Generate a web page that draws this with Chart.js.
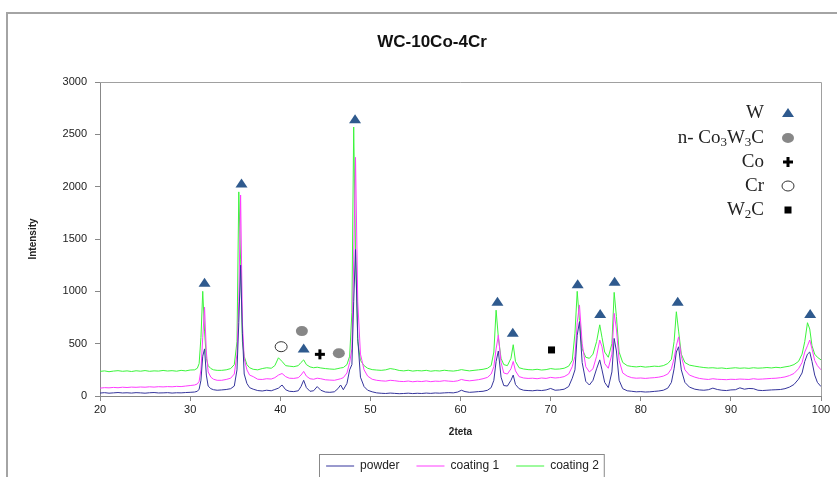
<!DOCTYPE html>
<html>
<head>
<meta charset="utf-8">
<script src="https://cdn.jsdelivr.net/npm/chart.js@4/dist/chart.umd.min.js"></script>
<style>
  html, body { margin: 0; padding: 0; background: #fff; overflow: hidden; }
  #wrap { position: absolute; left: 0; top: 0; width: 837px; height: 492px; }
</style>
</head>
<body>
<div id="wrap"><canvas id="xrd" width="837" height="492"></canvas></div>
<script>
// 2theta grid (shared by the three patterns)
var theta = [
  20,20.5,21,21.5,22,22.5,23,23.5,24,24.5,25,25.5,26,26.5,27,27.5,28,28.5,29,29.5,30,
  30.5,30.8,31.0,31.2,31.4,31.6,31.8,32.0,32.3,32.6,33,
  33.5,34,34.5,34.9,35.2,35.4,35.6,35.8,36.0,36.3,36.6,37,
  37.5,38,38.5,39,39.4,39.8,40.2,40.6,41,41.5,
  42,42.3,42.6,42.9,43.3,43.7,44.1,44.5,45,45.5,46,46.4,46.7,47,47.4,47.7,
  47.95,48.15,48.35,48.6,48.9,49.3,49.7,50.2,
  50.7,51.2,51.7,52.2,52.7,53.2,53.7,54.2,54.7,55.2,55.7,56.2,56.7,57.2,57.7,58.2,58.7,59.2,59.7,60.1,60.5,61,61.5,62,62.5,63,63.4,
  63.7,63.95,64.2,64.5,64.8,65.2,65.6,65.85,66.1,66.5,
  67,67.5,68,68.5,69,69.5,70,70.5,71,71.5,72,72.4,
  72.7,72.95,73.2,73.5,73.9,74.3,74.7,75.1,75.45,75.7,76.0,76.4,76.8,77.05,77.3,77.6,78.0,78.5,
  79,79.5,80,80.5,81,81.5,82,82.5,83,83.4,
  83.7,83.95,84.2,84.5,84.9,85.4,86,
  86.5,87,87.5,88,88.5,89,89.5,90,90.5,91,91.5,92,92.5,93,93.5,94,94.5,95,95.5,96,96.5,97,97.5,
  97.9,98.2,98.5,98.75,99.0,99.3,99.6,100
];

var powder = [
  28,32,27,30,33,29,31,28,32,30,27,31,33,29,30,32,28,31,30,33,35,
  38,45,65,150,380,450,200,95,70,60,55,
  58,62,70,95,250,700,1250,600,210,120,80,65,
  52,48,55,50,62,75,105,60,45,42,
  50,90,150,80,45,50,90,55,38,35,40,70,105,60,120,250,
  300,900,1400,550,180,90,55,40,
  30,26,24,28,25,22,24,27,23,26,24,28,25,29,27,30,32,30,38,55,42,35,38,42,45,55,80,
  150,330,430,180,100,95,150,200,110,70,
  55,52,50,55,52,58,72,55,58,65,90,170,
  250,580,710,320,140,105,150,260,345,250,130,80,230,550,430,150,70,50,
  45,40,42,38,40,44,48,55,75,130,
  260,420,470,250,130,85,65,
  58,55,60,75,62,55,52,58,60,78,65,72,70,55,52,55,58,60,62,70,85,110,160,
  220,330,400,420,330,200,130,90
];

var coating1 = [
  75,80,78,82,79,84,81,85,83,86,84,88,85,89,87,90,88,92,90,95,100,
  105,115,140,250,560,850,420,230,180,160,150,
  150,158,170,210,400,900,1920,700,360,250,200,185,
  160,158,165,162,175,200,215,185,170,168,
  175,200,235,190,165,160,170,165,155,152,150,158,165,175,220,320,
  450,1300,2280,900,400,250,190,160,
  150,145,142,150,146,140,138,143,136,141,138,144,137,142,140,146,142,139,145,158,150,145,150,156,165,178,210,
  280,450,580,320,220,210,260,330,240,185,
  172,168,170,165,172,168,178,172,176,185,210,280,
  380,700,870,500,280,230,260,380,535,470,310,265,400,790,640,340,220,190,
  175,170,172,168,172,175,180,190,210,260,
  360,480,565,380,250,200,180,
  168,162,158,165,160,158,156,160,158,162,160,158,165,160,162,165,168,170,175,182,195,215,260,
  320,420,480,535,450,340,290,250
];

var coating2 = [
  235,240,232,238,242,236,240,234,241,237,243,236,240,238,244,239,242,237,245,240,248,
  250,265,310,560,1000,620,360,290,262,250,245,
  245,250,262,300,520,1950,1300,520,380,300,270,255,
  250,262,270,265,290,365,330,290,285,280,
  290,320,345,300,278,270,275,268,262,258,255,262,268,272,300,380,
  800,2570,1400,520,340,290,265,252,
  248,245,250,262,255,244,240,246,238,243,240,245,237,242,239,246,241,238,244,252,246,240,245,250,255,265,290,
  420,820,560,360,300,290,360,490,330,270,
  258,252,250,255,248,252,262,256,258,265,285,340,
  600,1000,720,450,370,360,400,520,680,560,420,370,500,990,760,420,320,290,
  282,278,283,276,280,285,282,290,310,350,
  520,805,620,400,320,295,285,
  278,272,268,270,265,268,262,266,270,265,268,264,270,266,268,272,268,274,270,278,285,300,330,
  400,520,700,640,480,400,370,345
];

// phase markers (2theta, intensity)
var wTheta = [31.6, 35.7, 42.6, 48.3, 64.1, 65.8, 73.0, 75.5, 77.1, 84.1, 98.8];
var wInt = [1082, 2031, 455, 2645, 900, 605, 1067, 783, 1092, 900, 783];
var co3w3cTheta = [42.4, 46.5];
var co3w3cInt = [620, 408];
var coTheta = [44.4];
var coInt = [398];
var crTheta = [40.1];
var crInt = [471];
var w2cTheta = [70.1];
var w2cInt = [440];

var xTicks = [20, 30, 40, 50, 60, 70, 80, 90, 100];
var yTicks = [0, 500, 1000, 1500, 2000, 2500, 3000];

var seriesNames = ['powder', 'coating 1', 'coating 2'];
var seriesColors = ['#35359c', '#ff3cff', '#3cf53c'];

var triColor = '#2f5a8e';
var greyDot = '#878787';

function pts(xs, ys) {
    var out = [];
    for (var i = 0; i < xs.length; i++) out.push({x: xs[i], y: ys[i]});
    return out;
}

function traceSet(idx, vals) {
    return {
        label: seriesNames[idx],
        data: pts(theta, vals),
        borderColor: seriesColors[idx],
        backgroundColor: seriesColors[idx],
        borderWidth: 1,
        pointRadius: 0,
        tension: 0,
        order: idx + 1
    };
}

function drawMark(ctx, kind, x, y) {
    ctx.save();
    if (kind == 'tri') {
        ctx.fillStyle = triColor;
        ctx.beginPath();
        ctx.moveTo(x, y - 5);
        ctx.lineTo(x + 6, y + 4);
        ctx.lineTo(x - 6, y + 4);
        ctx.closePath();
        ctx.fill();
    } else if (kind == 'dot') {
        ctx.fillStyle = greyDot;
        ctx.beginPath();
        ctx.ellipse(x, y, 6, 5, 0, 0, Math.PI * 2);
        ctx.fill();
    } else if (kind == 'plus') {
        ctx.fillStyle = '#000';
        ctx.fillRect(x - 5, y - 1.5, 10, 3);
        ctx.fillRect(x - 1.5, y - 5, 3, 10);
    } else if (kind == 'ring') {
        ctx.strokeStyle = '#333';
        ctx.lineWidth = 1;
        ctx.fillStyle = '#fff';
        ctx.beginPath();
        ctx.ellipse(x, y, 6, 5, 0, 0, Math.PI * 2);
        ctx.fill();
        ctx.stroke();
    } else if (kind == 'sq') {
        ctx.fillStyle = '#000';
        ctx.fillRect(x - 3.5, y - 3.5, 7, 7);
    }
    ctx.restore();
}

// text with subscripts, right aligned at rx
function richText(ctx, parts, rx, y) {
    var big = '19px "Liberation Serif", "Times New Roman", serif';
    var small = '13px "Liberation Serif", "Times New Roman", serif';
    var w = 0, i;
    for (i = 0; i < parts.length; i++) {
        ctx.font = parts[i][1] ? small : big;
        w += ctx.measureText(parts[i][0]).width;
    }
    var x = rx - w;
    ctx.textAlign = 'left';
    ctx.textBaseline = 'middle';
    ctx.fillStyle = '#222';
    for (i = 0; i < parts.length; i++) {
        ctx.font = parts[i][1] ? small : big;
        ctx.fillText(parts[i][0], x, parts[i][1] ? y + 5 : y);
        x += ctx.measureText(parts[i][0]).width;
    }
}

var phaseKey = [
    {parts: [['W', 0]], mark: 'tri', y: 113},
    {parts: [['n- Co', 0], ['3', 1], ['W', 0], ['3', 1], ['C', 0]], mark: 'dot', y: 138},
    {parts: [['Co', 0]], mark: 'plus', y: 162},
    {parts: [['Cr', 0]], mark: 'ring', y: 186},
    {parts: [['W', 0], ['2', 1], ['C', 0]], mark: 'sq', y: 210}
];

var frames = {
    id: 'frames',
    beforeDraw: function(chart) {
        var ctx = chart.ctx;
        ctx.save();
        ctx.fillStyle = '#fff';
        ctx.fillRect(0, 0, chart.width, chart.height);
        // outer chart border
        ctx.strokeStyle = '#a4a4a4';
        ctx.lineWidth = 2;
        ctx.beginPath();
        ctx.moveTo(7, chart.height);
        ctx.lineTo(7, 13);
        ctx.lineTo(chart.width, 13);
        ctx.stroke();
        // title
        ctx.fillStyle = '#111';
        ctx.font = 'bold 17px "Liberation Sans", Arial, sans-serif';
        ctx.textAlign = 'center';
        ctx.textBaseline = 'middle';
        ctx.fillText('WC-10Co-4Cr', 432, 42);
        ctx.restore();
    },
    beforeDatasetsDraw: function(chart) {
        var a = chart.chartArea, ctx = chart.ctx;
        ctx.save();
        ctx.strokeStyle = '#a0a0a0';
        ctx.lineWidth = 1;
        ctx.beginPath();
        ctx.moveTo(a.left, a.top + 0.5);
        ctx.lineTo(a.right + 0.5, a.top + 0.5);
        ctx.lineTo(a.right + 0.5, a.bottom);
        ctx.stroke();
        ctx.restore();
    },
    afterLayout: function(chart) {
        var lg = chart.legend;
        var shift = 42;
        lg.left += shift;
        lg.right += shift;
        for (var i = 0; i < lg.legendHitBoxes.length; i++) lg.legendHitBoxes[i].left += shift;
    },
    afterDraw: function(chart) {
        var ctx = chart.ctx;
        var lg = chart.legend;
        var hb = lg.legendHitBoxes;
        if (hb.length) {
            var l = hb[0].left, r = hb[hb.length - 1].left + hb[hb.length - 1].width;
            ctx.save();
            ctx.strokeStyle = '#888';
            ctx.lineWidth = 1;
            ctx.strokeRect(Math.round(l) - 6.5, Math.round(hb[0].top) - 5.5, r - l + 12, hb[0].height + 30);
            ctx.restore();
        }
        for (var k = 0; k < phaseKey.length; k++) {
            richText(ctx, phaseKey[k].parts, 764, phaseKey[k].y);
            drawMark(ctx, phaseKey[k].mark, 788, phaseKey[k].y);
        }
    }
};

var markerPlugin = {
    id: 'markers',
    afterDatasetsDraw: function(chart) {
        var ctx = chart.ctx, xs = chart.scales.x, ys = chart.scales.y;
        var groups = [
            ['tri', wTheta, wInt], ['dot', co3w3cTheta, co3w3cInt], ['plus', coTheta, coInt],
            ['ring', crTheta, crInt], ['sq', w2cTheta, w2cInt]
        ];
        groups.forEach(function(g) {
            for (var i = 0; i < g[1].length; i++) {
                drawMark(ctx, g[0], xs.getPixelForValue(g[1][i]), ys.getPixelForValue(g[2][i]));
            }
        });
    }
};

var tickFont = {family: '"Liberation Sans", Arial, sans-serif', size: 11};
var legendFont = {family: '"Liberation Sans", Arial, sans-serif', size: 12};

new Chart(document.getElementById('xrd').getContext('2d'), {
    type: 'line',
    data: {
        datasets: [
            traceSet(0, powder),
            traceSet(1, coating1),
            traceSet(2, coating2)
        ]
    },
    options: {
        responsive: false,
        animation: false,
        events: [],
        layout: {padding: {left: 20, right: 16, top: 82, bottom: 10}},
        plugins: {
            title: {display: false},
            tooltip: {enabled: false},
            legend: {
                display: true,
                position: 'bottom',
                labels: {
                    usePointStyle: true,
                    pointStyle: 'line',
                    pointStyleWidth: 28,
                    padding: 17,
                    color: '#222',
                    font: legendFont
                }
            }
        },
        scales: {
            x: {
                type: 'linear',
                min: 20,
                max: 100,
                afterBuildTicks: function(s) { s.ticks = xTicks.map(function(v) { return {value: v}; }); },
                afterFit: function(s) { s.height = 47; },
                ticks: {color: '#222', font: tickFont, padding: 2, maxRotation: 0},
                grid: {drawOnChartArea: false, drawTicks: true, tickLength: 5, color: '#888'},
                border: {color: '#888'},
                title: {display: true, text: '2teta', color: '#222',
                        font: {family: '"Liberation Sans", Arial, sans-serif', size: 10, weight: 'bold'},
                        padding: {top: 0, bottom: 5}}
            },
            y: {
                min: 0,
                max: 3000,
                afterBuildTicks: function(s) { s.ticks = yTicks.map(function(v) { return {value: v}; }); },
                afterFit: function(s) { s.width = 80; },
                ticks: {color: '#222', font: tickFont, padding: 8,
                        callback: function(v) { return String(v); }},
                grid: {drawOnChartArea: false, drawTicks: true, tickLength: 5, color: '#888'},
                border: {color: '#888'},
                title: {display: true, text: 'Intensity', color: '#222',
                        font: {family: '"Liberation Sans", Arial, sans-serif', size: 10, weight: 'bold'},
                        padding: {top: 7, bottom: 0}}
            }
        }
    },
    plugins: [frames, markerPlugin]
});
</script>
</body>
</html>
